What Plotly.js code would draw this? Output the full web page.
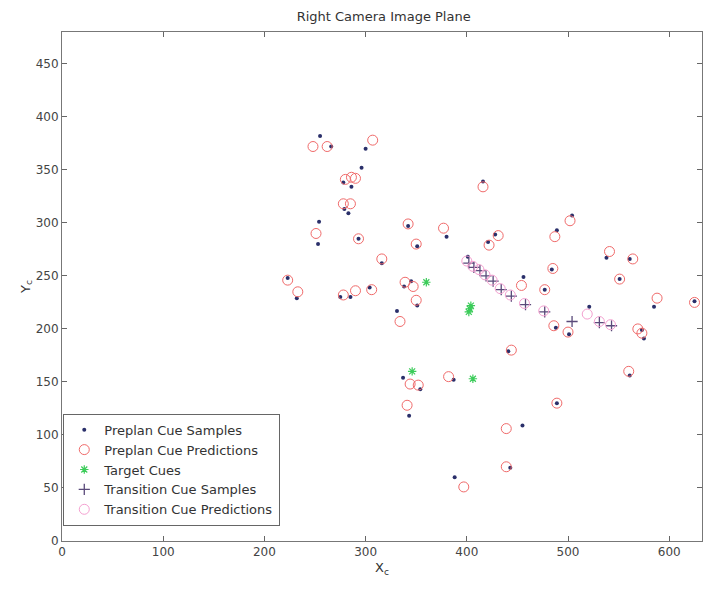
<!DOCTYPE html>
<html>
<head>
<meta charset="utf-8">
<script src="https://cdn.plot.ly/plotly-3.0.1.min.js"></script>
<style>html,body{margin:0;padding:0;background:#fff;}#chart{width:704px;height:592px;}</style>
</head>
<body>
<div id="chart"></div>
<script>
// Preplan cue samples (dots)
var preplanSampleX = [255,266,300,296,278,286,279,283,254,253,293,316,342,351,380,223,232,275,285,304,338,345,351,331,416,428,421,401,456,484,477,489,504,538,561,551,488,501,521,585,625,573,575,441,561,337,354,387,343,489,455,443,388];
var preplanSampleY = [382,372,370,352,338,334,313,309,301,280,285,262,297,278,287,248,229,230,230,239,240,245,222,217,339,289,282,268,249,256,237,293,307,267,266,247,201,195,221,221,226,199,191,179,156,154,143,152,118,130,109,69,60];
// Preplan cue predictions (circles)
var preplanPredX = [248,262,307,280,286,290,278,285,251,293,316,342,350,377,223,233,278,290,306,339,347,350,334,416,431,422,454,485,477,487,502,541,564,551,486,500,588,625,569,573,444,560,344,352,382,341,489,439,439,397];
var preplanPredY = [372,372,378,341,343,342,318,318,290,285,266,299,280,295,246,235,232,236,237,244,240,227,207,334,288,279,241,257,237,287,302,273,266,247,203,197,229,225,200,196,180,160,148,147,155,128,130,106,70,51];
// Target cues
var targetX = [360,346,406,402,403,404];
var targetY = [244,160,153,216,219,222];
// Transition cue samples (+)
var transSampleX = [402,407,413,419,426,434,444,458,477,504,531,543];
var transSampleY = [262,258,255,250,245,237,231,223,216,207,206,203];
// Transition cue predictions (circles)
var transPredX = [400,406,412,418,425,433,443,457,476,519,531,542];
var transPredY = [264,259,256,251,246,238,232,224,217,214,207,204];

var FONT = 'DejaVu Sans, Liberation Sans, Arial, sans-serif';

var traces = [
  {x: preplanSampleX, y: preplanSampleY, mode: 'markers', type: 'scatter', name: 'Preplan Cue Samples',
   marker: {symbol: 'circle', size: 4, color: '#2a2f6a'}},
  {x: preplanPredX, y: preplanPredY, mode: 'markers', type: 'scatter', name: 'Preplan Cue Predictions',
   marker: {symbol: 'circle-open', size: 10, color: '#f06a6a', line: {width: 1, color: '#f06a6a'}}},
  {x: targetX, y: targetY, mode: 'markers', type: 'scatter', name: 'Target Cues',
   marker: {symbol: 'asterisk-open', size: 7, color: '#3ccc5a', line: {width: 1.2, color: '#3ccc5a'}}},
  {x: transSampleX, y: transSampleY, mode: 'markers', type: 'scatter', name: 'Transition Cue Samples',
   marker: {symbol: 'cross-thin-open', size: 8, color: '#5a4a7a', line: {width: 1.3, color: '#5a4a7a'}}},
  {x: transPredX, y: transPredY, mode: 'markers', type: 'scatter', name: 'Transition Cue Predictions',
   marker: {symbol: 'circle-open', size: 10, color: '#f4a0d0', line: {width: 1, color: '#f4a0d0'}}}
];

var layout = {
  width: 704, height: 592,
  margin: {l: 62, r: 2, t: 32, b: 51},
  paper_bgcolor: '#fff', plot_bgcolor: '#fff',
  font: {family: FONT, size: 12, color: '#333'},
  title: {text: 'Right Camera Image Plane', x: 0.545, xanchor: 'center', y: 0.973, yanchor: 'middle',
          font: {family: FONT, size: 13, color: '#333'}},
  showlegend: true,
  legend: {x: 0.002, y: 0.25, xanchor: 'left', yanchor: 'top', bgcolor: '#fff',
           bordercolor: '#666', borderwidth: 1, font: {family: FONT, size: 13, color: '#333'},
           tracegroupgap: 0, itemsizing: 'trace'},
  xaxis: {range: [0, 632.4], tickvals: [0,100,200,300,400,500,600], ticks: 'inside', ticklen: 5,
          tickcolor: '#666', showline: true, linecolor: '#777', linewidth: 1, mirror: 'ticks',
          showgrid: false, zeroline: false, tickfont: {family: FONT, size: 12, color: '#444'},
          title: {text: 'X<sub>c</sub>', standoff: 4, font: {family: FONT, size: 13, color: '#333'}}},
  yaxis: {range: [0, 480], tickvals: [0,50,100,150,200,250,300,350,400,450], ticks: 'inside', ticklen: 5,
          tickcolor: '#666', showline: true, linecolor: '#777', linewidth: 1, mirror: 'ticks',
          showgrid: false, zeroline: false, tickfont: {family: FONT, size: 12, color: '#444'},
          title: {text: 'Y<sub>c</sub>', standoff: 2, font: {family: FONT, size: 13, color: '#333'}}}
};

Plotly.newPlot('chart', traces, layout, {displayModeBar: false, staticPlot: true});
</script>
</body>
</html>
